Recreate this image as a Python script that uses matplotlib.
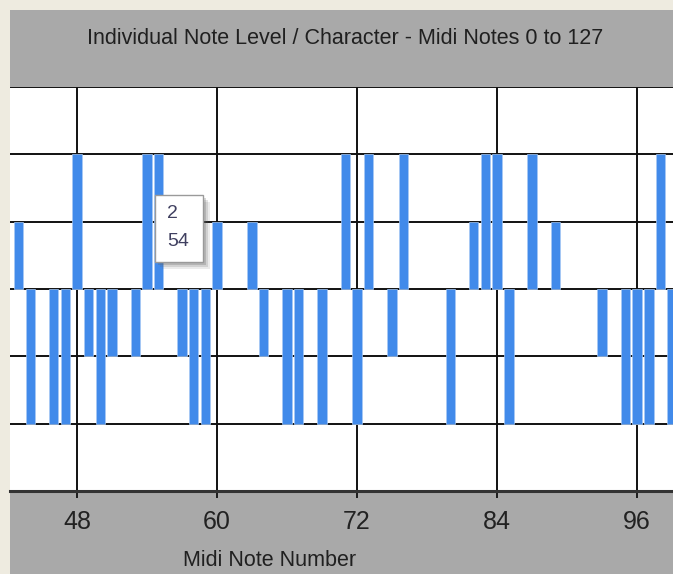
import matplotlib
matplotlib.use("Agg")
import matplotlib.pyplot as plt
from matplotlib.patches import Rectangle

# --- data ---
notes = [43, 44, 46, 47, 48, 49, 50, 51, 53, 54, 55, 57, 58, 59, 60, 63, 64,
         66, 67, 69, 71, 72, 73, 75, 76, 80, 82, 83, 84, 85, 87, 89, 93, 95,
         96, 97, 98, 99]
levels = [1, -2, -2, -2, 2, -1, -2, -1, -1, 2, 2, -1, -2, -2, 1, 1, -1,
          -2, -2, -2, 2, -2, 2, -1, 2, -2, 1, 2, 2, -2, 2, 1, -1, -2,
          -2, -2, 2, -2]
x_ticks = [48, 60, 72, 84, 96]
tooltip_lines = ["2", "54"]

title = "Individual Note Level / Character - Midi Notes 0 to 127"
xlabel = "Midi Note Number"

W, H = 673, 574
BG = "#EEEBE0"
CHART_BG = "#A9A9A9"
BAR = "#418AEA"

plt.rcParams["font.family"] = ["Liberation Sans", "DejaVu Sans"]

fig = plt.figure(figsize=(W / 100, H / 100), dpi=100, facecolor=BG)

# gray chart area (cropped on the right)
fig.patches.append(Rectangle((10 / W, 0), 1 - 10 / W, 1 - 10 / H,
                             transform=fig.transFigure, facecolor=CHART_BG,
                             edgecolor="none", zorder=-10))

ax = fig.add_axes([10 / W, 83 / H, 663 / W, 404 / H])
ax.set_facecolor("white")
ax.bar(notes, levels, width=0.82, color=BAR, edgecolor="#a8c9f4", linewidth=0.5, zorder=3)

ax.set_xlim(42.257, 99.08)
ax.set_ylim(-3, 3)
ax.set_xticks(x_ticks)
ax.set_yticks(range(-3, 4))
ax.set_yticklabels([])
ax.tick_params(axis="y", length=0)
ax.tick_params(axis="x", length=5, width=1.3, color="#111111", pad=9,
               labelsize=18, labelcolor="#222222")
ax.grid(True, color="#111111", linewidth=1.4)
ax.set_axisbelow(True)
for s in ["left", "right", "top"]:
    ax.spines[s].set_visible(False)
ax.spines["bottom"].set_color("#333333")
ax.spines["bottom"].set_linewidth(2.2)

fig.text(345 / W, 1 - 38 / H, title, ha="center", va="center",
         fontsize=15.5, color="#202020")
fig.text(270 / W, 1 - 560 / H, xlabel, ha="center", va="center",
         fontsize=15.5, color="#202020")

# tooltip overlay with soft drop shadow
for i, a in enumerate([0.12, 0.18, 0.25, 0.32]):
    off = 7 - 2 * i
    fig.patches.append(Rectangle(((155 + off) / W, 1 - (262 + off) / H), 48 / W, 67 / H,
                                 transform=fig.transFigure, facecolor="#606060",
                                 alpha=a, edgecolor="none", zorder=5))
fig.patches.append(Rectangle((155 / W, 1 - 262 / H), 48 / W, 67 / H,
                             transform=fig.transFigure, facecolor="white",
                             edgecolor="#9a9a9a", linewidth=1, zorder=6))
fig.text(167 / W, 1 - 214 / H, tooltip_lines[0], ha="left", va="center",
         fontsize=14, color="#404060", zorder=7)
fig.text(167 / W, 1 - 242 / H, tooltip_lines[1], ha="left", va="center",
         fontsize=14, color="#404060", zorder=7)

fig.savefig("out.png", dpi=100, facecolor=BG)
